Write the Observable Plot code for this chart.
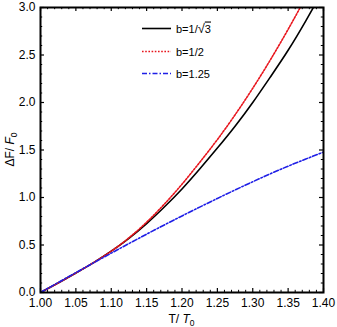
<!DOCTYPE html>
<html><head><meta charset="utf-8">
<script src="https://cdn.jsdelivr.net/npm/d3@7"></script>
<script src="https://cdn.jsdelivr.net/npm/@observablehq/plot@0.6"></script>
<style>
body{margin:0;background:#fff}
#chart{position:relative;width:337px;height:327px}
</style>
</head><body><div id="chart"></div>
<script>
// Data
const T = [1.000,1.025,1.050,1.075,1.100,1.125,1.150,1.175,1.200,1.225,1.250,1.275,1.300,1.325,1.350,1.375,1.400];
const bInvSqrt3 = [0,0.10,0.205,0.315,0.435,0.57,0.725,0.90,1.09,1.30,1.52,1.75,2.00,2.27,2.55,2.86,3.19];
const bHalf     = [0,0.10,0.205,0.315,0.435,0.575,0.74,0.93,1.14,1.37,1.61,1.87,2.15,2.45,2.77,3.11,3.47];
const b125      = [0,0.105,0.209,0.312,0.414,0.515,0.614,0.711,0.806,0.899,0.990,1.079,1.166,1.25,1.33,1.405,1.478];

const xTicks = [1.00,1.05,1.10,1.15,1.20,1.25,1.30,1.35,1.40];
const yTicks = [0.0,0.5,1.0,1.5,2.0,2.5,3.0];
const xMinorStep = 0.01;
const yMinorStep = 0.1;

const seriesNames = ["b=1/√3","b=1/2","b=1.25"];
const seriesColors = ["#000000","#e8141c","#1f1fe6"];
const seriesDash = [null,"1.6 1.6","5 2 1.5 2"];
const seriesValues = [bInvSqrt3,bHalf,b125];

const W=337,H=327,mL=40,mR=14,mT=7,mB=35;
const innerH=H-mT-mB, innerW=W-mL-mR;

const xMinor = d3.range(1, 1.4001, xMinorStep).filter(v => !xTicks.some(t => Math.abs(t-v)<1e-6));
const yMinor = d3.range(0, 3.0001, yMinorStep).filter(v => !yTicks.some(t => Math.abs(t-v)<1e-6));

const lineMarks = seriesValues.map((vals,i) =>
  Plot.lineY(T.map((t,j)=>({t, v: vals[j]})), {
    x:"t", y:"v", curve:"natural", clip:true,
    stroke: seriesColors[i], strokeWidth: 1.6,
    strokeDasharray: seriesDash[i]
  })
);

const plot = Plot.plot({
  width:W, height:H, marginLeft:mL, marginRight:mR, marginTop:mT, marginBottom:mB,
  style:{fontFamily:"'Liberation Sans', Arial, sans-serif", fontSize:"12px", background:"#fff", color:"#000", overflow:"visible"},
  x:{domain:[1,1.4]},
  y:{domain:[0,3]},
  marks:[
    Plot.axisX(xTicks, {tickSize:0, tickPadding:6, tickFormat:d3.format(".2f"), label:null}),
    Plot.axisY(yTicks, {tickSize:0, tickPadding:5, tickFormat:d3.format(".1f"), label:null}),
    Plot.tickX(xTicks, {x:d=>d, insetTop: innerH-4, stroke:"#000", strokeWidth:1.2}),
    Plot.tickX(xTicks, {x:d=>d, insetBottom: innerH-4, stroke:"#000", strokeWidth:1.2}),
    Plot.tickX(xMinor, {x:d=>d, insetTop: innerH-2.2, stroke:"#000", strokeWidth:1}),
    Plot.tickX(xMinor, {x:d=>d, insetBottom: innerH-2.2, stroke:"#000", strokeWidth:1}),
    Plot.tickY(yTicks, {y:d=>d, insetRight: innerW-4, stroke:"#000", strokeWidth:1.2}),
    Plot.tickY(yTicks, {y:d=>d, insetLeft: innerW-4, stroke:"#000", strokeWidth:1.2}),
    Plot.tickY(yMinor, {y:d=>d, insetRight: innerW-2.2, stroke:"#000", strokeWidth:1}),
    Plot.tickY(yMinor, {y:d=>d, insetLeft: innerW-2.2, stroke:"#000", strokeWidth:1}),
    ...lineMarks,
    Plot.frame({stroke:"#000", strokeWidth:2})
  ]
});
document.getElementById("chart").appendChild(plot);

const svg = d3.select(plot);
const ff = "'Liberation Sans', Arial, sans-serif";
// axis labels
const yl = svg.append("text").attr("transform",`translate(14,${mT+innerH/2}) rotate(-90)`)
  .attr("text-anchor","middle").attr("font-family",ff).attr("font-size",12).attr("fill","#000");
yl.append("tspan").text("ΔF/ ");
yl.append("tspan").attr("font-style","italic").text("F");
yl.append("tspan").attr("font-size",8.5).attr("dy",3).text("0");

const xl = svg.append("text").attr("x",mL+innerW/2).attr("y",H-4)
  .attr("text-anchor","middle").attr("font-family",ff).attr("font-size",12).attr("fill","#000");
xl.append("tspan").text("T/ ");
xl.append("tspan").attr("font-style","italic").text("T");
xl.append("tspan").attr("font-size",8.5).attr("dy",3).text("0");

// legend
const legY = [28.5, 51.5, 73.5];
const lg = svg.append("g").attr("text-anchor","start");
seriesNames.forEach((name,i) => {
  lg.append("line").attr("x1",142).attr("x2",171).attr("y1",legY[i]).attr("y2",legY[i])
    .attr("stroke",seriesColors[i]).attr("stroke-width",1.6)
    .attr("stroke-dasharray",seriesDash[i]);
  const t = lg.append("text").attr("x",176).attr("y",legY[i]+4)
    .attr("text-anchor","start")
    .attr("font-family",ff).attr("font-size",11).attr("fill","#000");
  if (name.includes("√")) {
    const [pre, post] = name.split("√");
    t.append("tspan").text(pre);
    t.append("tspan").attr("font-size",13).text("√");
    t.append("tspan").attr("text-decoration","overline").text(post);
  } else {
    t.text(name);
  }
});
</script>
</body></html>
